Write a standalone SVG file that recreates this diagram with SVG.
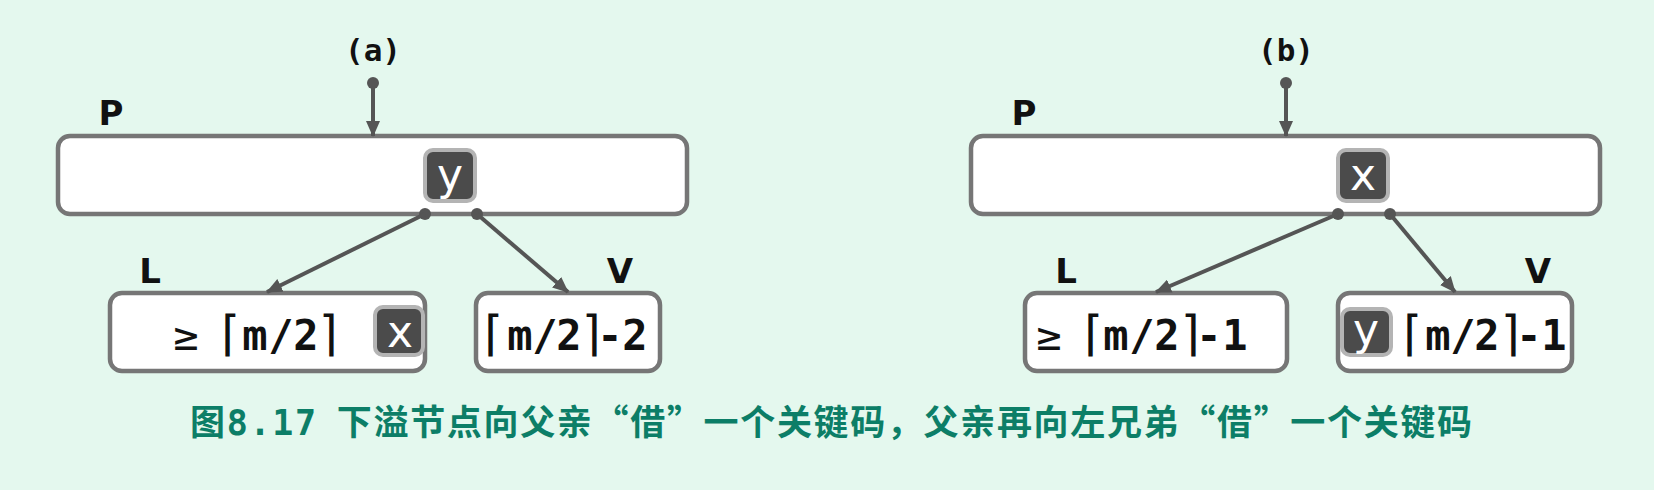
<svg xmlns="http://www.w3.org/2000/svg" width="1654" height="490" viewBox="0 0 1654 490">
<defs>
<marker id="ah" markerUnits="userSpaceOnUse" markerWidth="16" markerHeight="14" refX="15" refY="7" orient="auto">
<path d="M0,0 L16,7 L0,14 z" fill="#555"/>
</marker>
<style>
.box{fill:#fff;stroke:#767676;stroke-width:4.5}
.key{fill:#4b4b4b;stroke:#b4b4b4;stroke-width:4}
.kt{font-family:"DejaVu Sans",sans-serif;font-size:44px;fill:#fff;text-anchor:middle}
.lbl{font-family:"DejaVu Sans",sans-serif;font-weight:bold;font-size:34px;fill:#111;text-anchor:middle}
.tag{font-family:"DejaVu Sans Mono",monospace;font-weight:bold;font-size:31px;fill:#111;text-anchor:middle}
.f{font-family:"DejaVu Sans Mono",monospace;font-size:42px;fill:#111;text-anchor:middle}
.b{font-weight:bold}
.br{font-size:48px}
.con line{stroke:#555;stroke-width:4;marker-end:url(#ah)}
.con circle{fill:#555}
.cap{font-family:"Noto Sans CJK SC",sans-serif;font-weight:bold;font-size:35px;fill:#0c7e67}
</style>
</defs>
<rect width="1654" height="490" fill="#e4f8ee"/>

<text class="tag" x="373" y="61">(a)</text>
<text class="tag" x="1286" y="61">(b)</text>

<g id="Pa">
<rect class="box" x="58" y="136" width="629" height="78" rx="12"/>
<text class="lbl" x="111" y="125">P</text>
<rect class="key" x="425" y="150" width="50" height="51" rx="8"/>
<text class="kt" x="450" y="190">y</text>
</g>
<g id="La">
<rect class="box" x="110" y="293" width="315" height="78" rx="12"/>
<text class="lbl" x="150" y="283">L</text>
<text class="f" y="350"><tspan x="186">≥</tspan><tspan class="br" x="229">⌈</tspan><tspan class="b" x="255">m</tspan><tspan class="b" x="281">/</tspan><tspan class="b" x="306">2</tspan><tspan class="br" x="330">⌉</tspan></text>
<rect class="key" x="375" y="307" width="48" height="48" rx="8"/>
<text class="kt" x="400" y="347">x</text>
</g>
<g id="Va">
<rect class="box" x="476" y="293" width="184" height="78" rx="12"/>
<text class="lbl" x="620" y="283">V</text>
<text class="f" y="350"><tspan class="br" x="492">⌈</tspan><tspan class="b" x="520">m</tspan><tspan class="b" x="545">/</tspan><tspan class="b" x="569">2</tspan><tspan class="br" x="593">⌉</tspan><tspan class="b" x="610">-</tspan><tspan class="b" x="635">2</tspan></text>
</g>

<g id="Pb">
<rect class="box" x="971" y="136" width="629" height="78" rx="12"/>
<text class="lbl" x="1024" y="125">P</text>
<rect class="key" x="1338" y="150" width="50" height="51" rx="8"/>
<text class="kt" x="1363" y="190">x</text>
</g>
<g id="Lb">
<rect class="box" x="1025" y="293" width="262" height="78" rx="12"/>
<text class="lbl" x="1066" y="283">L</text>
<text class="f" y="350"><tspan x="1049">≥</tspan><tspan class="br" x="1092">⌈</tspan><tspan class="b" x="1116">m</tspan><tspan class="b" x="1142">/</tspan><tspan class="b" x="1167">2</tspan><tspan class="br" x="1192">⌉</tspan><tspan class="b" x="1209">-</tspan><tspan class="b" x="1235">1</tspan></text>
</g>
<g id="Vb">
<rect class="box" x="1338" y="293" width="234" height="78" rx="12"/>
<text class="lbl" x="1538" y="283">V</text>
<rect class="key" x="1342" y="309" width="49" height="46" rx="8"/>
<text class="kt" x="1366" y="345">y</text>
<text class="f" y="350"><tspan class="br" x="1411">⌈</tspan><tspan class="b" x="1438">m</tspan><tspan class="b" x="1463">/</tspan><tspan class="b" x="1487">2</tspan><tspan class="br" x="1512">⌉</tspan><tspan class="b" x="1529">-</tspan><tspan class="b" x="1554">1</tspan></text>
</g>

<g id="connectors" class="con">
<circle cx="373" cy="83" r="6"/>
<line x1="373" y1="83" x2="373" y2="136"/>
<circle cx="425" cy="214" r="6"/>
<line x1="425" y1="214" x2="267" y2="292"/>
<circle cx="477" cy="214" r="6"/>
<line x1="477" y1="214" x2="568" y2="292"/>
<circle cx="1286" cy="83" r="6"/>
<line x1="1286" y1="83" x2="1286" y2="136"/>
<circle cx="1338" cy="214" r="6"/>
<line x1="1338" y1="214" x2="1156" y2="292"/>
<circle cx="1390" cy="214" r="6"/>
<line x1="1390" y1="214" x2="1455" y2="292"/>
</g>

<text class="cap" xml:space="preserve" x="190" y="435" textLength="1282" lengthAdjust="spacing">图<tspan font-family="DejaVu Sans Mono,monospace">8.17</tspan>  下溢节点向父亲“借”一个关键码，父亲再向左兄弟“借”一个关键码</text>
</svg>
